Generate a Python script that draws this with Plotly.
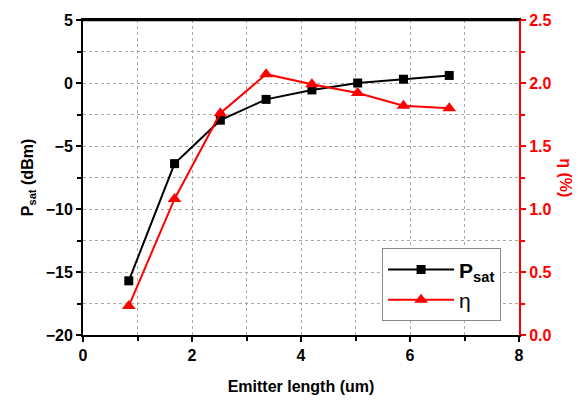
import plotly.graph_objects as go

emitter_length = [0.84, 1.68, 2.52, 3.36, 4.2, 5.04, 5.88, 6.72]
psat_dbm = [-15.7, -6.4, -2.95, -1.3, -0.55, 0.0, 0.3, 0.6]
eta_pct = [0.23, 1.08, 1.76, 2.07, 1.99, 1.92, 1.82, 1.80]

FONT = "Liberation Sans"
RED = "#ff0000"
GRID = "#aaaaaa"

fig = go.Figure()
fig.add_trace(go.Scatter(
    x=emitter_length, y=psat_dbm, name="<b>P<sub>sat</sub></b>",
    mode="lines+markers",
    line=dict(color="black", width=2),
    marker=dict(symbol="square", size=9, color="black"),
))
fig.add_trace(go.Scatter(
    x=emitter_length, y=eta_pct, name="η", yaxis="y2",
    mode="lines+markers",
    line=dict(color=RED, width=2),
    marker=dict(symbol="triangle-up", size=12, color=RED),
))

fig.update_layout(
    width=586, height=409,
    margin=dict(l=83, r=67, t=12, b=74),
    plot_bgcolor="white", paper_bgcolor="white",
    font=dict(family=FONT, size=15, color="black"),
    xaxis=dict(
        range=[0, 8], tickmode="array", tickvals=[0, 2, 4, 6, 8],
        ticks="outside", ticklen=5, tickwidth=1.5, tickcolor="black",
        showline=True, linecolor="black", linewidth=2, mirror=True,
        showgrid=True, gridcolor=GRID, griddash="dot", gridwidth=1,
        minor=dict(dtick=1, showgrid=True, gridcolor=GRID, griddash="dot",
                   ticks="outside", ticklen=4, tickcolor="black"),
        zeroline=False,
        tickfont=dict(family=FONT, size=16, color="black", weight="bold"),
        title=dict(text="<b>Emitter length (um)</b>", font=dict(size=16), standoff=18),
    ),
    yaxis=dict(
        range=[-20, 5], tickmode="array", tickvals=[-20, -15, -10, -5, 0, 5],
        ticks="outside", ticklen=5, tickwidth=1.5, tickcolor="black",
        showline=True, linecolor="black", linewidth=2,
        showgrid=True, gridcolor=GRID, griddash="dot", gridwidth=1,
        minor=dict(dtick=2.5, showgrid=True, gridcolor=GRID, griddash="dot",
                   ticks="outside", ticklen=4, tickcolor="black"),
        zeroline=False,
        tickfont=dict(family=FONT, size=16, color="black", weight="bold"),
        title=dict(text="<b>P<sub>sat</sub> (dBm)</b>", font=dict(size=16), standoff=8),
    ),
    yaxis2=dict(
        range=[0, 2.5], overlaying="y", side="right",
        tickmode="array", tickvals=[0, 0.5, 1.0, 1.5, 2.0, 2.5],
        ticktext=["0.0", "0.5", "1.0", "1.5", "2.0", "2.5"],
        ticks="outside", ticklen=5, tickwidth=1.5, tickcolor=RED,
        showline=True, linecolor=RED, linewidth=2,
        showgrid=False, zeroline=False,
        minor=dict(dtick=0.25, ticks="outside", ticklen=4, tickcolor=RED),
        tickfont=dict(family=FONT, size=16, color=RED, weight="bold"),
    ),
    legend=dict(
        x=0.686, y=0.275, xanchor="left", yanchor="top",
        bgcolor="white", bordercolor="#888888", borderwidth=1,
        font=dict(family=FONT, size=21, color="black"),
        itemwidth=66, tracegroupgap=6,
    ),
    showlegend=True,
)

# top frame line
fig.add_shape(type="line", xref="paper", yref="paper", x0=0, x1=1, y0=1, y1=1,
              line=dict(color="black", width=2.5), layer="above")

fig.add_annotation(
    text="<b>η (%)</b>", xref="paper", yref="paper",
    x=1.13, y=0.5, showarrow=False, textangle=90,
    font=dict(family=FONT, size=16, color=RED),
)

fig.write_html("out.html")
